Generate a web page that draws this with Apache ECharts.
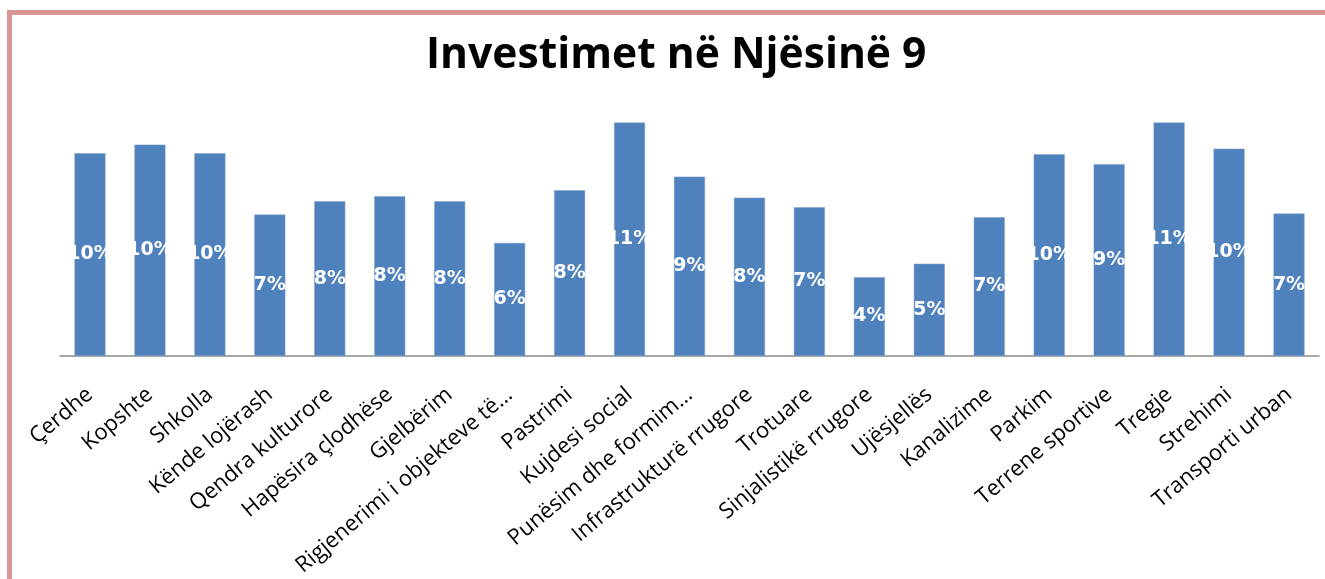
<!DOCTYPE html>
<html>
<head>
<meta charset="utf-8">
<script src="https://cdn.jsdelivr.net/npm/echarts@6/dist/echarts.min.js"></script>
<style>
html,body{margin:0;padding:0;background:#fff;}
#chart{width:1325px;height:579px;}
</style>
</head>
<body>
<div id="chart"></div>
<script>
const titleText = "Investimet në Njësinë 9";
const categories = [
  "Çerdhe", "Kopshte", "Shkolla", "Kënde lojërash", "Qendra kulturore",
  "Hapësira çlodhëse", "Gjelbërim", "Rigjenerimi i objekteve të…", "Pastrimi",
  "Kujdesi social", "Punësim dhe formim…", "Infrastrukturë rrugore", "Trotuare",
  "Sinjalistikë rrugore", "Ujësjellës", "Kanalizime", "Parkim", "Terrene sportive",
  "Tregje", "Strehimi", "Transporti urban"
];
const values = [
  9.94, 10.36, 9.94, 6.93, 7.58,
  7.83, 7.58, 5.54, 8.12,
  11.44, 8.79, 7.76, 7.29,
  3.86, 4.52, 6.80, 9.89, 9.40,
  11.44, 10.16, 6.98
];

const chart = echarts.init(document.getElementById('chart'), null, {renderer: 'canvas'});
chart.setOption({
  backgroundColor: '#ffffff',
  animation: false,
  title: {
    text: titleText,
    left: 421,
    top: 29,
    textStyle: {fontFamily: 'Open Sans', fontWeight: 'bold', fontSize: 42.6, color: '#000'}
  },
  graphic: [
    {type: 'rect', shape: {x: 7, y: 10, width: 1318, height: 5}, style: {fill: '#d99694'}, silent: true},
    {type: 'rect', shape: {x: 7, y: 10, width: 5, height: 569}, style: {fill: '#d99694'}, silent: true}
  ],
  grid: {left: 60, right: 6, top: 111.2, bottom: 223, containLabel: false},
  xAxis: {
    type: 'category',
    data: categories,
    axisLine: {show: true, lineStyle: {color: '#8c8c8c', width: 1.5}},
    axisTick: {show: false},
    axisLabel: {
      interval: 0,
      rotate: 40,
      margin: 36,
      fontFamily: 'Open Sans',
      fontSize: 22,
      color: '#000'
    }
  },
  yAxis: {
    type: 'value', min: 0, max: 12, show: false,
    splitLine: {show: false}
  },
  series: [{
    type: 'bar',
    data: values,
    barWidth: 31,
    itemStyle: {color: '#4f81bd', borderColor: '#7fa1cc', borderWidth: 0.5},
    label: {
      show: true,
      position: 'inside',
      color: '#fff',
      fontFamily: 'DejaVu Sans',
      fontWeight: 'bold',
      fontSize: 19,
      formatter: p => Math.round(p.value) + '%'
    }
  }]
});
</script>
</body>
</html>
